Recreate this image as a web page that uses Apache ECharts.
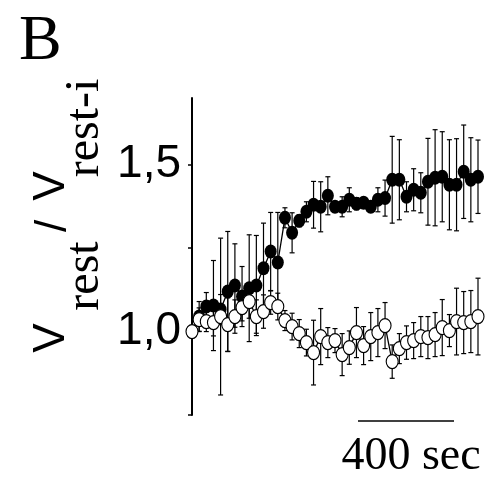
<!DOCTYPE html>
<html>
<head>
<meta charset="utf-8">
<script src="https://cdn.jsdelivr.net/npm/echarts@6/dist/echarts.min.js"></script>
<style>html,body{margin:0;padding:0;background:#fff;}#c{width:487px;height:486px;}</style>
</head>
<body>
<div id="c"></div>
<script>
// time of each sample (s)
const times = [0,30,60,90,120,150,180,210,240,270,300,330,360,390,420,450,480,510,540,570,600,630,660,690,720,750,780,810,840,870,900,930,960,990,1020,1050,1080,1110,1140,1170,1200];
// filled circles: mean and half error bar
const filledMean = [1.000,1.045,1.075,1.078,1.066,1.120,1.138,1.105,1.130,1.138,1.190,1.240,1.207,1.341,1.296,1.332,1.359,1.380,1.374,1.407,1.374,1.374,1.395,1.383,1.386,1.374,1.395,1.400,1.455,1.455,1.404,1.425,1.416,1.449,1.461,1.464,1.440,1.440,1.479,1.455,1.464];
const filledErr  = [0,0.045,0.042,0.135,0.045,0.18,0.125,0.09,0.16,0.15,0.135,0.117,0.15,0.03,0.06,0.018,0.03,0.07,0.075,0.057,0.015,0.03,0.036,0.018,0.015,0.015,0.036,0.054,0.13,0.12,0.045,0.063,0.06,0.13,0.144,0.135,0.135,0.138,0.14,0.126,0.11];
// open circles: mean and half error bar
const openMean = [1.000,1.036,1.030,1.027,1.045,1.021,1.045,1.072,1.090,1.045,1.060,1.087,1.075,1.033,1.015,0.994,0.967,0.937,0.985,0.967,0.973,0.931,0.952,0.997,0.958,0.985,0.997,1.018,0.910,0.949,0.967,0.973,0.985,0.982,0.991,1.012,1.003,1.030,1.027,1.030,1.045];
const openErr  = [0,0.035,0.03,0.04,0.235,0.08,0.05,0.04,0.05,0.05,0.05,0.035,0.04,0.03,0.04,0.042,0.04,0.097,0.084,0.045,0.036,0.063,0.05,0.075,0.057,0.072,0.072,0.069,0.05,0.045,0.05,0.054,0.06,0.063,0.066,0.084,0.048,0.1,0.093,0.093,0.115];
const yTicks = [0.75,1.0,1.25,1.5];
const yLabels = {1: '1,0', 1.5: '1,5'};

const chart = echarts.init(document.getElementById('c'), null, {renderer:'canvas'});

function pairs(m){ return times.map((t,i)=>[t,m[i]]); }
function errData(m,e){ return times.map((t,i)=>[t,m[i]-e[i],m[i]+e[i]]); }
function renderErr(params, api){
  const x = api.value(0), lo = api.value(1), hi = api.value(2);
  if (hi - lo <= 0) return null;
  const p1 = api.coord([x, hi]), p2 = api.coord([x, lo]);
  const cw = 2.5;
  const st = {stroke:'#000', lineWidth:1.2};
  return {type:'group', children:[
    {type:'line', shape:{x1:p1[0],y1:p1[1],x2:p2[0],y2:p2[1]}, style:st},
    {type:'line', shape:{x1:p1[0]-cw,y1:p1[1],x2:p1[0]+cw,y2:p1[1]}, style:st},
    {type:'line', shape:{x1:p2[0]-cw,y1:p2[1],x2:p2[0]+cw,y2:p2[1]}, style:st}
  ]};
}

const serif = '"Liberation Serif", "Times New Roman", serif';
const sans = '"Liberation Sans", Arial, sans-serif';

function rtext(x,y,text,font){
  return {type:'text', x:x, y:y, rotation:Math.PI/2,
    style:{text:text, font:font, fill:'#000', textAlign:'center', textVerticalAlign:'middle', align:'center', verticalAlign:'middle'}};
}

chart.setOption({
  animation:false,
  backgroundColor:'#fff',
  grid:{left:192, right:9, top:98, bottom:71, containLabel:false},
  xAxis:{type:'value', min:0, max:1200, show:false},
  yAxis:{type:'value', min:0.75, max:1.7, interval:0.25,
    axisLine:{show:true, lineStyle:{color:'#000', width:2}},
    axisTick:{show:true, inside:false, length:4, lineStyle:{color:'#000', width:1.5}, customValues:yTicks},
    axisLabel:{show:true, margin:11, fontFamily:sans, fontSize:46, color:'#000',
      customValues:[1.0,1.5], formatter:function(v){ return yLabels[v] || ''; }},
    splitLine:{show:false}
  },
  series:[
    {type:'custom', renderItem:renderErr, data:errData(filledMean,filledErr), encode:{x:0,y:[1,2]}, z:1, silent:true},
    {type:'custom', renderItem:renderErr, data:errData(openMean,openErr), encode:{x:0,y:[1,2]}, z:1, silent:true},
    {type:'line', data:pairs(filledMean), symbol:'circle', symbolSize:[12,14], showAllSymbol:true,
      lineStyle:{color:'#000', width:1.3}, itemStyle:{color:'#000', borderColor:'#000', borderWidth:0}, z:3},
    {type:'line', data:pairs(openMean), symbol:'circle', symbolSize:[12,14], showAllSymbol:true,
      lineStyle:{color:'#000', width:1.3}, itemStyle:{color:'#fff', borderColor:'#000', borderWidth:1.2}, z:4}
  ],
  graphic:[
    {type:'text', x:19, y:42, style:{text:'B', font:'64px '+serif, fill:'#000', textAlign:'left', textVerticalAlign:'middle', align:'left', verticalAlign:'middle'}},
    rtext(52,338,'V','44px '+sans),
    rtext(85,276,'rest','48px '+serif),
    rtext(54,226,'/','44px '+sans),
    rtext(52,186,'V','44px '+sans),
    rtext(85,128,'rest-i','48px '+serif),
    {type:'line', shape:{x1:358,y1:421,x2:454,y2:421}, style:{stroke:'#000', lineWidth:1.5}},
    {type:'text', x:411, y:457, style:{text:'400 sec', font:'46px '+serif, fill:'#000', textAlign:'center', textVerticalAlign:'middle', align:'center', verticalAlign:'middle'}}
  ]
});
</script>
</body>
</html>
